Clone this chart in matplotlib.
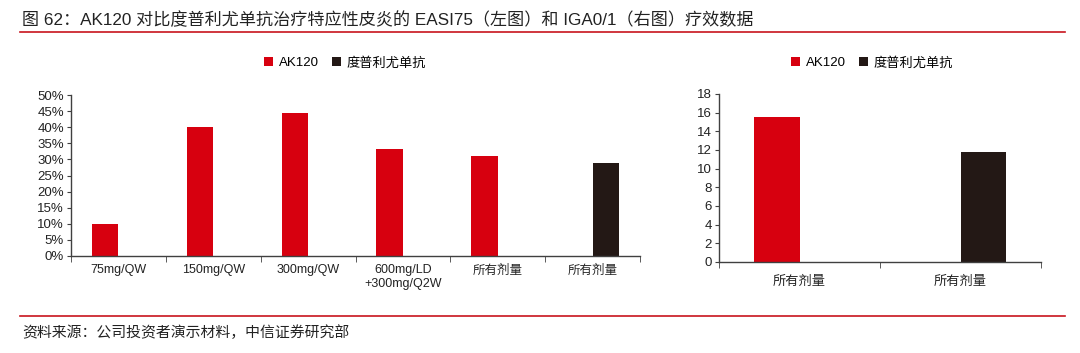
import numpy as np
import matplotlib.pyplot as plt
from matplotlib.ticker import PercentFormatter, FixedLocator
from matplotlib.lines import Line2D

plt.rcParams['font.family'] = ['Liberation Sans', 'Noto Sans CJK SC', 'DejaVu Sans']

# data
easi_labels = ['75mg/QW', '150mg/QW', '300mg/QW', '600mg/LD\n+300mg/Q2W', '所有剂量', '所有剂量']
easi_ak120 = [10.0, 40.0, 44.3, 33.2, 31.1, np.nan]
easi_dupi = [np.nan, np.nan, np.nan, np.nan, np.nan, 28.9]
iga_labels = ['所有剂量', '所有剂量']
iga_ak120 = [15.5, np.nan]
iga_dupi = [np.nan, 11.8]
series_names = ['AK120', '度普利尤单抗']

red = '#d7000f'
black = '#231815'
grey = '#404040'

W, H = 1080, 353
fig = plt.figure(figsize=(W / 100, H / 100), dpi=100)


def px_axes(x0, y0, x1, y1):
    return fig.add_axes([x0 / W, 1 - y1 / H, (x1 - x0) / W, (y1 - y0) / H])


def style(ax, n):
    for s in ['top', 'right']:
        ax.spines[s].set_visible(False)
    for s in ['left', 'bottom']:
        ax.spines[s].set_color(grey)
        ax.spines[s].set_linewidth(1.0)
    ax.set_xlim(-0.5, n - 0.5)
    ax.set_xticks(range(n))
    ax.tick_params(axis='x', length=0, labelsize=9, colors='#222222', pad=6)
    ax.xaxis.set_minor_locator(FixedLocator(np.arange(-0.5, n, 1.0)))
    ax.tick_params(axis='x', which='minor', length=4, color=grey, direction='out')
    ax.tick_params(axis='y', length=3, color=grey, labelsize=9.5, labelcolor='#222222', pad=2)


w = 0.28
leg_kw = dict(loc='center', bbox_transform=fig.transFigure, ncol=2, frameon=False, fontsize=9.5,
              handlelength=0.7, handleheight=0.7, handletextpad=0.4, columnspacing=1.0)

# left chart: EASI75
ax1 = px_axes(71, 95, 640, 256)
x = np.arange(len(easi_labels))
ax1.bar(x - w / 2, np.array(easi_ak120) / 100, w, color=red, label=series_names[0])
ax1.bar(x + w / 2, np.array(easi_dupi) / 100, w, color=black, label=series_names[1])
style(ax1, len(easi_labels))
ax1.set_xticklabels(easi_labels, linespacing=1.15)
ax1.set_ylim(0, 0.5)
ax1.set_yticks(np.arange(0, 0.51, 0.05))
ax1.yaxis.set_major_formatter(PercentFormatter(1.0, decimals=0))
ax1.legend(bbox_to_anchor=(345 / W, 1 - 63 / H), **leg_kw)

# right chart: IGA0/1
ax2 = px_axes(719, 94, 1041, 262)
x2 = np.arange(len(iga_labels))
ax2.bar(x2 - w / 2, iga_ak120, w, color=red, label=series_names[0])
ax2.bar(x2 + w / 2, iga_dupi, w, color=black, label=series_names[1])
style(ax2, len(iga_labels))
ax2.set_xticklabels(iga_labels)
ax2.tick_params(axis='x', pad=10, labelsize=9.5)
ax2.set_ylim(0, 18)
ax2.set_yticks(range(0, 19, 2))
ax2.legend(bbox_to_anchor=(872 / W, 1 - 63 / H), **leg_kw)

# title, source and rules
fig.text(22 / W, 1 - 20 / H, '图 62：AK120 对比度普利尤单抗治疗特应性皮炎的 EASI75（左图）和 IGA0/1（右图）疗效数据',
         fontsize=12.3, color='#222222', va='center', ha='left')
fig.text(22 / W, 1 - 333 / H, '资料来源：公司投资者演示材料，中信证券研究部',
         fontsize=10.7, color='#222222', va='center', ha='left')
for yy in (32, 316):
    fig.add_artist(Line2D([20 / W, 1065 / W], [1 - yy / H, 1 - yy / H], color='#c8141e', lw=1.2))

fig.savefig('out.png', dpi=100)
